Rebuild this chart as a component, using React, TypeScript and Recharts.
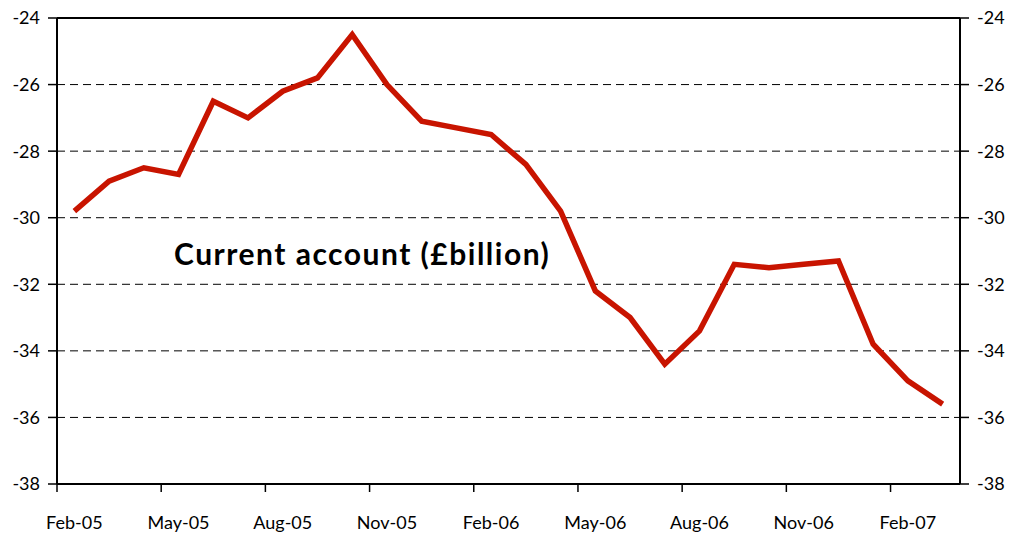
import React from 'react'
import { LineChart, Line, XAxis, YAxis, CartesianGrid, ReferenceLine } from 'recharts'

// meses (Feb-05 .. Mar-07)
const MESES = [
  'Feb-05', 'Mar-05', 'Apr-05', 'May-05', 'Jun-05', 'Jul-05', 'Aug-05', 'Sep-05', 'Oct-05', 'Nov-05', 'Dec-05',
  'Jan-06', 'Feb-06', 'Mar-06', 'Apr-06', 'May-06', 'Jun-06', 'Jul-06', 'Aug-06', 'Sep-06', 'Oct-06', 'Nov-06', 'Dec-06',
  'Jan-07', 'Feb-07', 'Mar-07',
]

const CUENTA_CORRIENTE = [
  -29.8, -28.9, -28.5, -28.7, -26.5, -27.0, -26.2, -25.8, -24.5, -26.0, -27.1,
  -27.3, -27.5, -28.4, -29.8, -32.2, -33.0, -34.4, -33.4, -31.4, -31.5, -31.4, -31.3,
  -33.8, -34.9, -35.6,
]

const Y_TICKS = [-38, -36, -34, -32, -30, -28, -26, -24]
const Y_GRID = [-36, -34, -32, -30, -28, -26]

const W = 1012
const H = 538
const M = { top: 18, right: 0, left: 0, bottom: 0 }
const Y_LEFT_W = 57
const Y_RIGHT_W = 52
const X_H = 54
const PLOT_W = W - Y_LEFT_W - Y_RIGHT_W
const MEDIO = PLOT_W / MESES.length / 2
const FONT = 'Lato, "Open Sans", sans-serif'

const data = MESES.map((mes, i) => ({ mes, valor: CUENTA_CORRIENTE[i] }))

// tick del eje X: marca entre categorías, etiqueta centrada
function TickMes({ x, y, payload }: { x?: number; y?: number; payload?: { value: string } }) {
  const cx = x ?? 0
  const cy = y ?? 0
  return (
    <g>
      <line x1={cx - MEDIO} x2={cx - MEDIO} y1={cy} y2={cy + 8} stroke="#000" strokeWidth={1.5} />
      <text x={cx} y={cy + 45} textAnchor="middle" fontSize={18} fontFamily={FONT} fill="#000">
        {payload?.value}
      </text>
    </g>
  )
}

export default function App() {
  return (
    <div style={{ position: 'absolute', left: 0, top: 0, width: W, height: H, background: '#fff' }}>
      <LineChart width={W} height={H} data={data} margin={M}>
        <CartesianGrid
          yAxisId="izq"
          horizontal
          vertical={false}
          horizontalValues={Y_GRID}
          stroke="#000"
          strokeDasharray="8 5"
          strokeWidth={1}
        />
        <XAxis
          dataKey="mes"
          interval={2}
          height={X_H}
          padding={{ left: MEDIO, right: MEDIO }}
          tickLine={false}
          tickSize={0}
          tickMargin={0}
          tick={<TickMes />}
          axisLine={{ stroke: '#000', strokeWidth: 2 }}
        />
        <YAxis
          yAxisId="izq"
          domain={[-38, -24]}
          ticks={Y_TICKS}
          width={Y_LEFT_W}
          tickSize={9}
          tickMargin={8}
          tick={{ fontSize: 18, fontFamily: FONT, fill: '#000' }}
          tickLine={{ stroke: '#000', strokeWidth: 1.5 }}
          axisLine={{ stroke: '#000', strokeWidth: 2 }}
          allowDataOverflow
        />
        <YAxis
          yAxisId="der"
          orientation="right"
          domain={[-38, -24]}
          ticks={Y_TICKS}
          width={Y_RIGHT_W}
          tickSize={9}
          tickMargin={8}
          tick={{ fontSize: 18, fontFamily: FONT, fill: '#000' }}
          tickLine={{ stroke: '#000', strokeWidth: 1.5 }}
          axisLine={{ stroke: '#000', strokeWidth: 2 }}
          allowDataOverflow
        />
        <ReferenceLine yAxisId="izq" y={-24} stroke="#000" strokeWidth={2} />
        <Line
          yAxisId="izq"
          type="linear"
          dataKey="valor"
          stroke="#c81400"
          strokeWidth={5.5}
          dot={false}
          activeDot={false}
          isAnimationActive={false}
        />
      </LineChart>
      <div
        style={{
          position: 'absolute',
          left: 174,
          top: 235,
          fontFamily: FONT,
          fontWeight: 700,
          fontSize: 30,
          letterSpacing: 1.5,
          color: '#000',
          whiteSpace: 'nowrap',
        }}
      >
        Current account (£billion)
      </div>
    </div>
  )
}
